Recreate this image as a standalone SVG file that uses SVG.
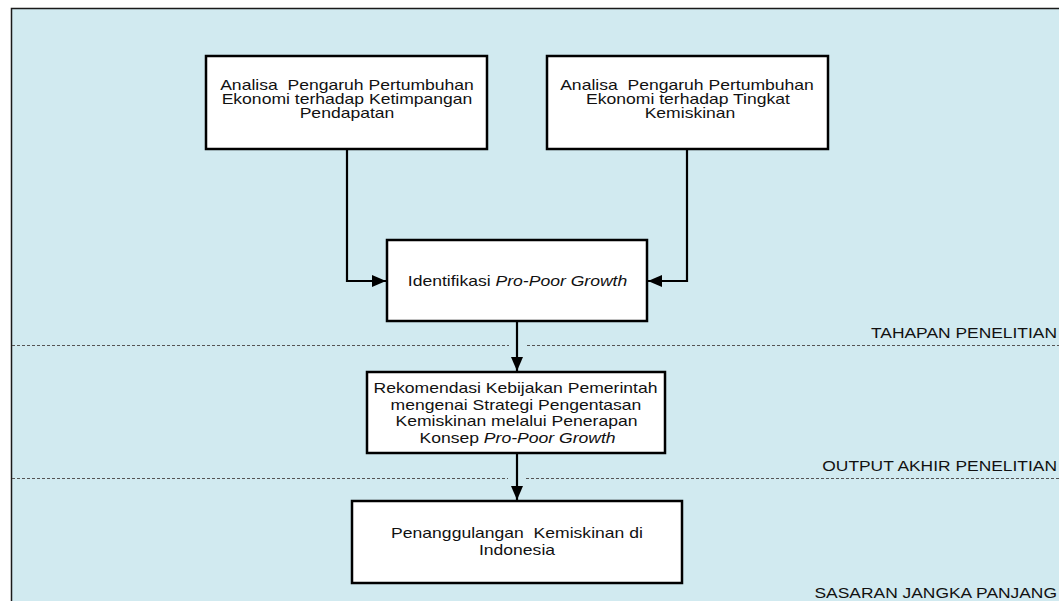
<svg xmlns="http://www.w3.org/2000/svg" width="1059" height="601" viewBox="0 0 1059 601">
<style>
.frame{fill:#d1eaf0;stroke:#1a1a1a;stroke-width:1.5}
.box{fill:#fff;stroke:#000;stroke-width:2.5}
.t{font-family:"Liberation Sans",Arial,sans-serif;font-size:14.4px;fill:#111;text-anchor:middle}
.lbl{font-family:"Liberation Sans",Arial,sans-serif;font-size:14.4px;fill:#111;text-anchor:end}
.dash{stroke:#555;stroke-width:1;stroke-dasharray:3 2;fill:none}
.c{stroke:#000;stroke-width:2.2;fill:none}
.i{font-style:italic}
</style>
<defs>
<marker id="ah" viewBox="0 0 14 12" refX="14" refY="6" markerWidth="14" markerHeight="12" markerUnits="userSpaceOnUse" orient="auto">
<path d="M0,0 L14,6 L0,12 Z" fill="#000"/>
</marker>
</defs>
<rect class="frame" x="11.5" y="8.5" width="1060" height="600"/>
<g id="separators">
<line class="dash" x1="12" y1="345.5" x2="509" y2="345.5"/>
<line class="dash" x1="527" y1="345.5" x2="1059" y2="345.5"/>
<line class="dash" x1="12" y1="478.5" x2="508" y2="478.5"/>
<line class="dash" x1="526" y1="478.5" x2="1059" y2="478.5"/>
<text class="lbl" transform="translate(1057,338) scale(1.21,1)">TAHAPAN PENELITIAN</text>
<text class="lbl" transform="translate(1057,471) scale(1.21,1)">OUTPUT AKHIR PENELITIAN</text>
<text class="lbl" transform="translate(1057,598) scale(1.21,1)">SASARAN JANGKA PANJANG</text>
</g>
<g id="connectors">
<path class="c" d="M347,149 V281 H386" marker-end="url(#ah)"/>
<path class="c" d="M687,149 V281 H648" marker-end="url(#ah)"/>
<path class="c" d="M517,321 V371" marker-end="url(#ah)"/>
<path class="c" d="M517,453 V500" marker-end="url(#ah)"/>
</g>
<g id="node1">
<rect class="box" x="206" y="56" width="281" height="93"/>
<text class="t" transform="translate(347,90) scale(1.22,1)" xml:space="preserve">Analisa  Pengaruh Pertumbuhan</text>
<text class="t" transform="translate(347,104) scale(1.22,1)">Ekonomi terhadap Ketimpangan</text>
<text class="t" transform="translate(347,118) scale(1.22,1)">Pendapatan</text>
</g>
<g id="node2">
<rect class="box" x="547" y="56" width="281" height="93"/>
<text class="t" transform="translate(687,90) scale(1.22,1)" xml:space="preserve">Analisa  Pengaruh Pertumbuhan</text>
<text class="t" transform="translate(688,104) scale(1.22,1)">Ekonomi terhadap Tingkat</text>
<text class="t" transform="translate(690,118) scale(1.22,1)">Kemiskinan</text>
</g>
<g id="node3">
<rect class="box" x="387" y="240" width="260" height="81"/>
<text class="t" transform="translate(517.5,286) scale(1.22,1)">Identifikasi <tspan class="i">Pro-Poor Growth</tspan></text>
</g>
<g id="node4">
<rect class="box" x="367" y="372" width="298" height="81"/>
<text class="t" transform="translate(515.5,393) scale(1.22,1)">Rekomendasi Kebijakan Pemerintah</text>
<text class="t" transform="translate(516,409.5) scale(1.22,1)">mengenai Strategi Pengentasan</text>
<text class="t" transform="translate(516.5,426) scale(1.22,1)">Kemiskinan melalui Penerapan</text>
<text class="t" transform="translate(517.5,442.5) scale(1.22,1)">Konsep <tspan class="i">Pro-Poor Growth</tspan></text>
</g>
<g id="node5">
<rect class="box" x="352" y="501" width="330" height="82"/>
<text class="t" transform="translate(517,538) scale(1.22,1)" xml:space="preserve">Penanggulangan  Kemiskinan di</text>
<text class="t" transform="translate(517,555) scale(1.22,1)">Indonesia</text>
</g>
</svg>
